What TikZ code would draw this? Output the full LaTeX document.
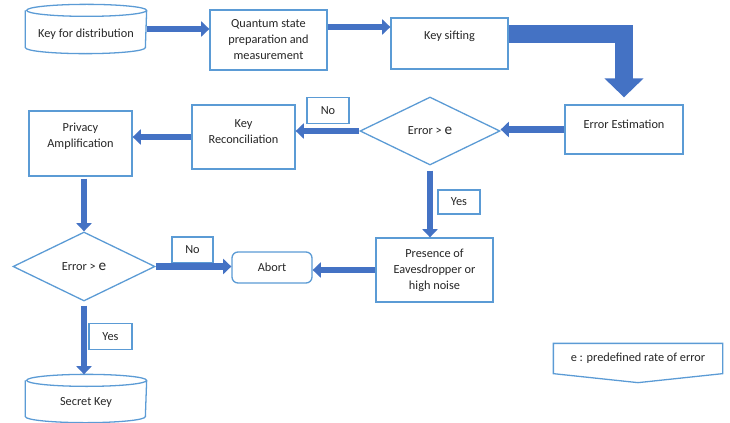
\documentclass[tikz,border=0pt]{standalone}
\usepackage{fontspec}
\setmainfont{Carlito}
\usetikzlibrary{arrows.meta,shapes.geometric}
\definecolor{azulborde}{HTML}{5B9BD5}
\definecolor{azulflecha}{HTML}{4472C4}
\definecolor{tinta}{HTML}{262626}
\newcommand\errsym{{\fontsize{13}{13}\selectfont e}}
\newcommand\bajar[2]{\raisebox{-#1}[0.25cm][0.07cm]{#2}}
% outline of a drum round node #1
\newcommand\tambor[1]{\draw[borde] ([yshift=-0.18cm]#1.north west) -- ([yshift=0.18cm]#1.south west)
   arc[start angle=180,end angle=360,x radius=1.8cm,y radius=0.18cm] -- ([yshift=-0.18cm]#1.north east)
   arc[start angle=0,end angle=360,x radius=1.8cm,y radius=0.18cm];}
\tikzset{borde/.style={draw=azulborde,line width=1.1pt},
         caja/.style={borde,fill=white,align=center,inner sep=0,
           font=\fontsize{10.5}{13.7}\selectfont\color{tinta}},
         texto/.style={caja,draw=none,fill=none},
         rombo/.style={caja,diamond},
         etq/.style={caja,minimum width=1.26cm,minimum height=0.8cm},
         flecha/.style={azulflecha,line width=0.195cm,-{Triangle[length=0.25cm,width=0.46cm]}},
         gruesa/.style={azulflecha,line width=0.54cm,line join=miter,-{Triangle[length=0.57cm,width=1.14cm]}}}

\begin{document}
\begin{tikzpicture}[x=0.03cm,y=-0.03cm]
  \useasboundingbox (0,0) rectangle (730,423);
  % top row
  \node[texto,minimum width=3.6cm,minimum height=1.44cm] (kd) at (86,29) {\bajar{0.18cm}{Key for distribution}};
  \tambor{kd}
  \node[caja,minimum width=3.51cm,minimum height=1.8cm] (qs) at (268.5,40) {Quantum state\\preparation and\\measurement};
  \node[caja,minimum width=3.51cm,minimum height=1.53cm,text depth=0.47cm] (ks) at (449.5,43.5) {Key sifting};
  % second row
  \node[caja,minimum width=3.54cm,minimum height=1.47cm,text depth=0.33cm] (est) at (624,129.5) {Error Estimation};
  \node[rombo,minimum width=4.2cm,minimum height=2.04cm] (d1) at (430,131) {Error > \errsym};
  \node[caja,minimum width=3.09cm,minimum height=1.92cm,text depth=0.33cm] (kr) at (243.5,137) {Key\\Reconciliation};
  \node[caja,minimum width=3.09cm,minimum height=1.95cm,text depth=0.49cm] (pa) at (80.5,143.5) {Privacy\\Amplification};
  \node[etq] (no1) at (328,110.5) {No};
  % third row
  \node[rombo,minimum width=4.26cm,minimum height=2.07cm] (d2) at (84,266.5) {Error > \errsym};
  \node[etq,minimum width=1.23cm,minimum height=0.78cm] (no2) at (192.5,250) {No};
  \node[caja,rounded corners=0.18cm,minimum width=2.4cm,minimum height=0.93cm] (ab) at (272,267.5) {Abort};
  \node[caja,minimum width=3.51cm,minimum height=1.92cm] (pr) at (434.5,270) {Presence of\\Eavesdropper or\\high noise};
  \node[etq,minimum height=0.72cm] (yes1) at (459,202) {Yes};
  \node[etq,minimum width=1.29cm] (yes2) at (110.5,336.5) {Yes};
  \node[texto,minimum width=3.6cm,minimum height=1.41cm] (sk) at (86,398.5) {\bajar{0.13cm}{Secret Key}};
  \tambor{sk}
  % note
  \node[texto,font=\fontsize{10.5}{12}\selectfont\color{tinta},minimum width=5.04cm,minimum height=0.87cm] (nota) at (638,358.5) {e : predefined rate of error};
  \draw[borde] (nota.north west) -- (nota.north east) -- (nota.south east)
       -- ([yshift=-0.27cm]nota.south) -- (nota.south west) -- cycle;
  % arrows
  \draw[flecha] (kd.east) -- (kd.east -| qs.west);
  \draw[flecha] ([yshift=0.39cm]qs.east) -- ([yshift=0.39cm]qs.east -| ks.west);
  \draw[gruesa] ([yshift=0.27cm]ks.east) -| ([yshift=0.21cm]est.north);
  \draw[flecha] (est.west) -- (est.west -| d1.east);
  \draw[flecha] (d1.west) -- (d1.west -| kr.east);
  \draw[flecha] (kr.west) -- (kr.west -| pa.east);
  \draw[flecha] ([yshift=-0.06cm]pa.south -| d2.north) -- (d2.north);
  \draw[flecha] ([yshift=-0.15cm]d1.south) -- (d1.south |- pr.north);
  \draw[flecha] (d2.east) -- (d2.east -| ab.west);
  \draw[flecha] (pr.west) -- (pr.west -| ab.east);
  \draw[flecha] ([yshift=-0.12cm]d2.south) -- (d2.south |- sk.north);
\end{tikzpicture}
\end{document}
